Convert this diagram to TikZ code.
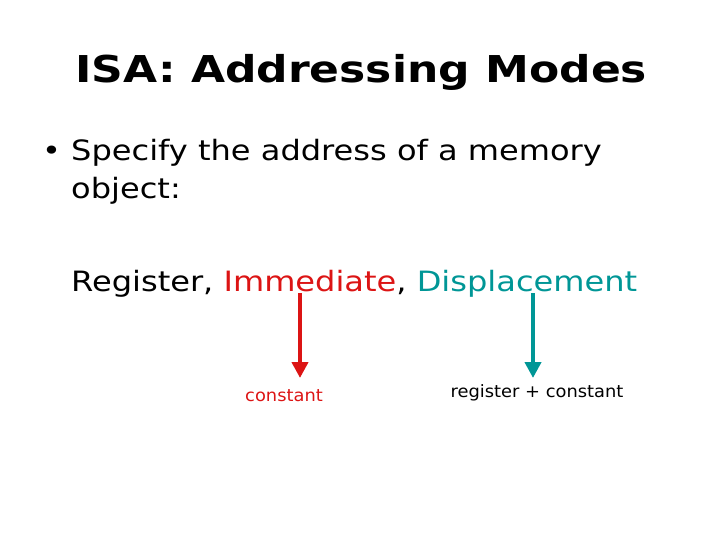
\documentclass[tikz,border=0pt]{standalone}
\usepackage{fontspec}
\setmainfont{DejaVu Sans}
\newfontfamily\bodyf[FakeStretch=1.145]{DejaVu Sans}
\newfontfamily\titlef[FakeStretch=1.19]{DejaVu Sans Bold}
\newfontfamily\smallf[FakeStretch=1.05]{DejaVu Sans}
\usetikzlibrary{arrows.meta}
\definecolor{imred}{RGB}{220,20,20}
\definecolor{dteal}{RGB}{0,150,150}
\tikzset{lbl/.style={inner sep=0pt,anchor=base west},
arr/.style={line width=4pt,-{Triangle[length=16pt,width=16pt]}}}
\begin{document}
\begin{tikzpicture}[x=1pt,y=-1pt]
\useasboundingbox (0,0) rectangle (720,540);
\node[lbl,font=\titlef\fontsize{37}{44}\selectfont] (title) at (75,83) {ISA: Addressing Modes};
\node[lbl,font=\bodyf\fontsize{28}{34}\selectfont] (b) at (42,161) {•};
\node[lbl,font=\bodyf\fontsize{28}{34}\selectfont] (l1) at (71,161) {Specify the address of a memory};
\node[lbl,font=\bodyf\fontsize{28}{34}\selectfont] (l2) at (71,199) {object:};
\node[lbl,font=\bodyf\fontsize{28}{34}\selectfont] (l3) at (71,291) {Register, \textcolor{imred}{Immediate}, \textcolor{dteal}{Displacement}};
\coordinate (a1) at (300,293);
\coordinate (a2) at (533,293);
\node[font=\smallf\fontsize{17}{20}\selectfont,text=imred,inner sep=0pt] (c1) at (284,396) {constant};
\node[font=\smallf\fontsize{17}{20}\selectfont,inner sep=0pt] (c2) at (537,393) {register + constant};
\draw[arr,imred] (a1) -- (300,378) coordinate (e1);
\draw[arr,dteal] (a2) -- (533,378) coordinate (e2);
\end{tikzpicture}
\end{document}
